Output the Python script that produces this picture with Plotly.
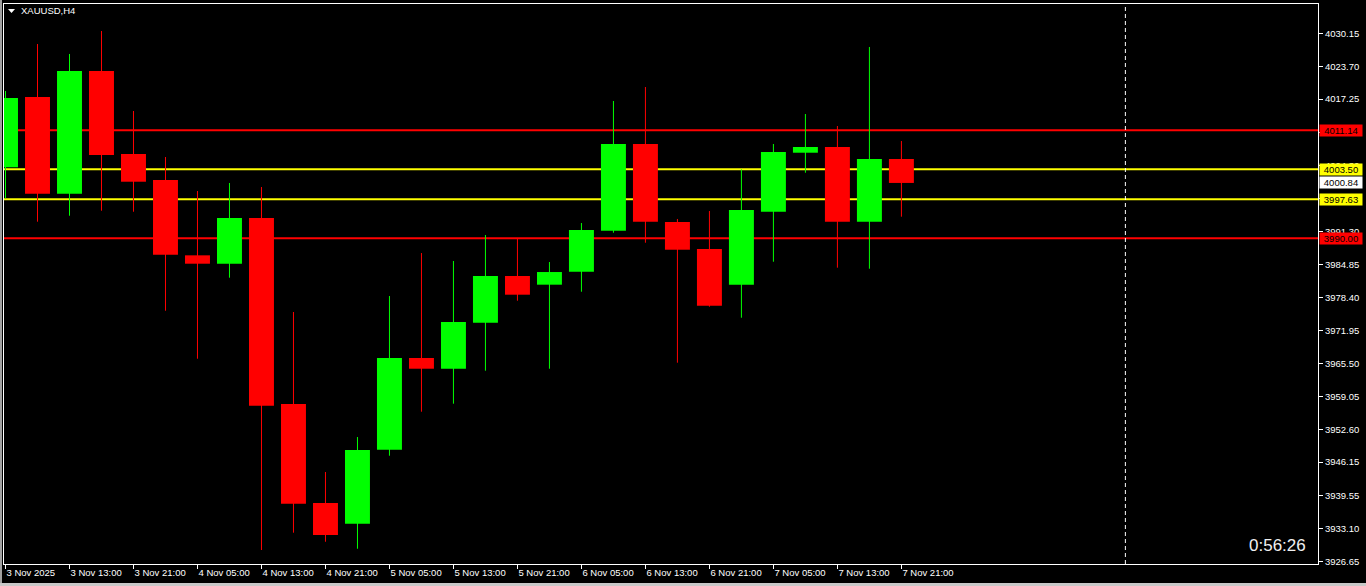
import plotly.graph_objects as go

# ---------------- data ----------------
bar_index = list(range(29))
opens  = [4003.90, 4017.67, 3998.73, 4022.77, 4006.51, 4001.41, 3986.66, 3985.02, 3993.97, 3957.54,
          3938.15, 3934.09, 3948.59, 3966.55, 3964.45, 3973.46, 3982.61, 3980.91, 3983.45, 3991.48,
          4008.47, 3993.19, 3987.90, 3980.91, 3995.20, 4006.76, 4007.88, 3993.25, 4005.53]
highs  = [4018.85, 4028.05, 4026.10, 4030.60, 4014.93, 4005.92, 3999.26, 4000.83, 4000.04, 3975.56,
          3944.22, 3951.07, 3978.69, 3987.11, 3985.55, 3990.64, 3989.86, 3985.35, 3992.99, 4016.89,
          4019.63, 3993.78, 3995.34, 4003.51, 4008.47, 4014.34, 4011.99, 4027.47, 4009.05]
lows   = [3997.83, 3993.25, 3994.42, 3995.40, 3995.20, 3975.81, 3966.41, 3982.28, 3928.94, 3932.33,
          3930.56, 3929.19, 3947.41, 3956.03, 3957.60, 3964.06, 3977.77, 3964.45, 3979.53, 3991.09,
          3989.13, 3965.63, 3976.60, 3974.44, 3985.41, 4002.84, 3984.24, 3984.04, 3994.23]
closes = [4017.48, 3998.73, 4022.77, 4006.31, 4001.08, 3986.78, 3985.02, 3993.97, 3957.20, 3938.01,
          3931.88, 3948.53, 3966.55, 3964.45, 3973.60, 3982.61, 3978.95, 3983.39, 3991.62, 4008.47,
          3993.25, 3987.76, 3976.79, 3995.54, 4006.90, 4007.88, 3993.25, 4005.53, 4000.84]

x_tick_index = [0, 2, 4, 6, 8, 10, 12, 14, 16, 18, 20, 22, 24, 26, 28]
x_tick_labels = ["3 Nov 2025", "3 Nov 13:00", "3 Nov 21:00", "4 Nov 05:00", "4 Nov 13:00",
                 "4 Nov 21:00", "5 Nov 05:00", "5 Nov 13:00", "5 Nov 21:00", "6 Nov 05:00",
                 "6 Nov 13:00", "6 Nov 21:00", "7 Nov 05:00", "7 Nov 13:00", "7 Nov 21:00"]
y_tick_labels = ["4030.15", "4023.70", "4017.25", "4010.80", "4004.30", "3997.85", "3991.30",
                 "3984.85", "3978.40", "3971.95", "3965.50", "3959.05", "3952.60", "3946.15",
                 "3939.55", "3933.10", "3926.65"]

red_levels = [4011.14, 3990.00]
yellow_levels = [4003.50, 3997.63]
current_price = 4000.84
separator_index = 35
symbol_title = "XAUUSD,H4"
timer_text = "0:56:26"

# ---------------- style ----------------
GREEN = "#00FF00"
RED = "#FF0000"
YELLOW = "#FFFF00"
FONT = "Liberation Sans"
FS = 9.5
W, H = 1366, 586
ML, MR, MT, MB = 4, 48, 4, 22
PW, PH = W - ML - MR, H - MT - MB


def px_x(px):
    return (px - ML) / PW


def px_y(py):
    return (H - MB - py) / PH


fig = go.Figure()

# wicks
for want_up, col in ((True, GREEN), (False, RED)):
    wx, wy = [], []
    for i, o, h, l, c in zip(bar_index, opens, highs, lows, closes):
        if (c >= o) == want_up:
            wx += [i, i, None]
            wy += [l, h, None]
    fig.add_trace(go.Scatter(x=wx, y=wy, mode="lines", line=dict(color=col, width=1),
                             hoverinfo="skip", showlegend=False))

# bodies
for want_up, col in ((True, GREEN), (False, RED)):
    bx, bb, bh = [], [], []
    for i, o, c in zip(bar_index, opens, closes):
        if (c >= o) == want_up:
            bx.append(i)
            bb.append(min(o, c))
            bh.append(max(abs(c - o), 0.15))
    fig.add_trace(go.Bar(x=bx, y=bh, base=bb, width=0.78, marker=dict(color=col, line=dict(width=0)),
                         hoverinfo="skip", showlegend=False))

shapes = []
for lv in red_levels:
    shapes.append(dict(type="line", xref="paper", x0=0, x1=1, yref="y", y0=lv, y1=lv,
                       line=dict(color=RED, width=2), layer="below"))
for lv in yellow_levels:
    shapes.append(dict(type="line", xref="paper", x0=0, x1=1, yref="y", y0=lv, y1=lv,
                       line=dict(color=YELLOW, width=2), layer="below"))
shapes.append(dict(type="line", xref="x", x0=separator_index, x1=separator_index, yref="paper", y0=0, y1=1,
                   line=dict(color="white", width=1, dash="4px,3px"), layer="below"))
# small triangle near symbol title
shapes.append(dict(type="path", xref="paper", yref="paper",
                   path=f"M {px_x(8)} {px_y(9)} L {px_x(15)} {px_y(9)} L {px_x(11.5)} {px_y(13)} Z",
                   fillcolor="white", line=dict(width=0)))
# window borders (gray)
shapes.append(dict(type="rect", xref="paper", yref="paper", x0=px_x(0), x1=px_x(2), y0=px_y(586), y1=px_y(0),
                   fillcolor="#a0a0a0", line=dict(width=0)))
shapes.append(dict(type="rect", xref="paper", yref="paper", x0=px_x(0), x1=px_x(1366), y0=px_y(586), y1=px_y(583),
                   fillcolor="#c8c8c8", line=dict(width=0)))

annotations = [
    dict(xref="paper", yref="paper", x=px_x(19), y=px_y(11), xanchor="left", yanchor="middle",
         text=symbol_title, showarrow=False, font=dict(family=FONT, size=FS, color="white")),
    dict(xref="paper", yref="paper", x=px_x(1308), y=px_y(545), xanchor="right", yanchor="middle",
         text=timer_text, showarrow=False, font=dict(family=FONT, size=17, color="#f0f0f0")),
]
labels = [(red_levels[0], RED), (yellow_levels[0], YELLOW), (current_price, "white"),
          (yellow_levels[1], YELLOW), (red_levels[1], RED)]
for lv, col in labels:
    annotations.append(dict(xref="paper", yref="y", x=px_x(1319), y=lv, xanchor="left", yanchor="middle",
                            text=f"{lv:.2f}", showarrow=False, bgcolor=col, borderpad=0, width=42,
                            align="center", font=dict(family=FONT, size=FS, color="black")))

fig.update_layout(
    width=W, height=H,
    margin=dict(l=ML, r=MR, t=MT, b=MB, pad=0),
    paper_bgcolor="black", plot_bgcolor="black",
    barmode="overlay", showlegend=False,
    shapes=shapes, annotations=annotations,
    xaxis=dict(range=[-0.047, 41.02], showgrid=False, zeroline=False,
               showline=True, linecolor="white", linewidth=1, mirror=True,
               tickmode="array", tickvals=x_tick_index, ticktext=x_tick_labels,
               ticks="outside", ticklen=4, tickcolor="white", tickwidth=1,
               ticklabelposition="outside right",
               tickfont=dict(family=FONT, size=FS, color="white")),
    yaxis=dict(range=[3926.20, 4035.89], side="right", showgrid=False, zeroline=False,
               showline=True, linecolor="white", linewidth=1, mirror=True,
               tickmode="array", tickvals=[float(t) for t in y_tick_labels], ticktext=y_tick_labels,
               ticks="outside", ticklen=4, tickcolor="white", tickwidth=1,
               tickfont=dict(family=FONT, size=FS, color="white")),
)

fig.write_html("out.html", config={"displayModeBar": False},
               post_script="document.body.style.margin='0px';document.body.style.background='black';")
